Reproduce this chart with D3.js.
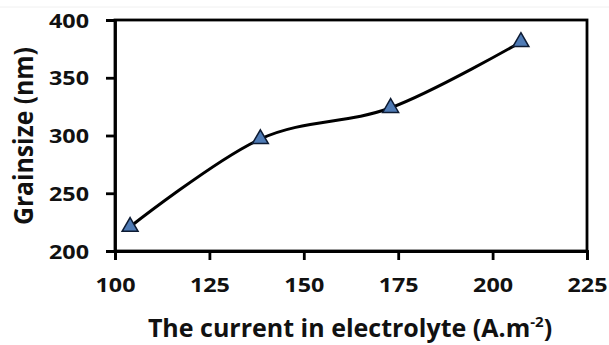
<!DOCTYPE html>
<html>
<head>
<meta charset="utf-8">
<script src="https://cdn.jsdelivr.net/npm/d3@7"></script>
<style>
  body { margin: 0; background: #fff; }
  text { font-family: "Open Sans", sans-serif; font-weight: bold; fill: #111; }
</style>
</head>
<body>
<div id="chart"></div>
<script>
// current vs grain size data
var current = [104, 138.5, 173, 207.5];
var grainSize = [221, 297, 324, 381];
var xTicks = [100, 125, 150, 175, 200, 225];
var yTicks = [200, 250, 300, 350, 400];

var W = 609, H = 345;
var m = {left: 115, right: 22, top: 20, bottom: 94};

var svg = d3.select("#chart").append("svg")
    .attr("width", W)
    .attr("height", H);

// faint border line at the top of the image
svg.append("line")
    .attr("x1", 0).attr("x2", W).attr("y1", 7).attr("y2", 7)
    .attr("stroke", "#f0f0f0").attr("stroke-width", 1);

var x = d3.scaleLinear().domain([100, 225]).range([m.left, W - m.right]);
var y = d3.scaleLinear().domain([200, 400]).range([H - m.bottom, m.top]);

// frame
svg.append("rect")
    .attr("x", x(100)).attr("y", y(400))
    .attr("width", x(225) - x(100)).attr("height", y(200) - y(400))
    .attr("fill", "none").attr("stroke", "#000").attr("stroke-width", 2.8);

var xAxis = svg.append("g")
    .attr("transform", "translate(0," + y(200) + ")")
    .call(d3.axisBottom(x).tickValues(xTicks).tickSize(9).tickPadding(18));
var yAxis = svg.append("g")
    .attr("transform", "translate(" + x(100) + ",0)")
    .call(d3.axisLeft(y).tickValues(yTicks).tickSize(9).tickPadding(17));

[xAxis, yAxis].forEach(function(g){
    g.select(".domain").attr("stroke", "#000").attr("stroke-width", 2.8);
    g.selectAll(".tick line").attr("stroke", "#000").attr("stroke-width", 2.8);
    g.selectAll(".tick text")
        .attr("font-size", "20px")
        .attr("font-family", "'Open Sans', sans-serif")
        .attr("font-weight", "bold")
        .attr("fill", "#111")
        .attr("textLength", 40)
        .attr("lengthAdjust", "spacingAndGlyphs");
});
yAxis.selectAll(".tick text").attr("dy", "0.36em");

// curve
var line = d3.line()
    .x(function(d, i){ return x(current[i]); })
    .y(function(d, i){ return y(grainSize[i]); })
    .curve(d3.curveCatmullRom.alpha(0));

svg.append("path")
    .datum(current)
    .attr("d", line)
    .attr("fill", "none")
    .attr("stroke", "#000")
    .attr("stroke-width", 3);

// triangle markers
var tri = d3.symbol().type(d3.symbolTriangle).size(110);
svg.selectAll(".pt")
    .data(current)
    .enter()
    .append("path")
    .attr("class", "pt")
    .attr("d", tri)
    .attr("transform", function(d, i){ return "translate(" + x(d) + "," + y(grainSize[i]) + ")"; })
    .attr("fill", "#4f7bb5")
    .attr("stroke", "#0d1b33")
    .attr("stroke-width", 1.5);

// axis titles
svg.append("text")
    .attr("x", 350)
    .attr("y", 337)
    .attr("text-anchor", "middle")
    .attr("font-size", "25px")
    .html('The current in electrolyte (A.m<tspan dy="-10" font-size="15px">-2</tspan><tspan dy="10">)</tspan>');

svg.append("text")
    .attr("transform", "translate(33,136) rotate(-90)")
    .attr("text-anchor", "middle")
    .attr("font-size", "26px")
    .attr("textLength", 178)
    .attr("lengthAdjust", "spacingAndGlyphs")
    .text("Grainsize (nm)");
</script>
</body>
</html>
